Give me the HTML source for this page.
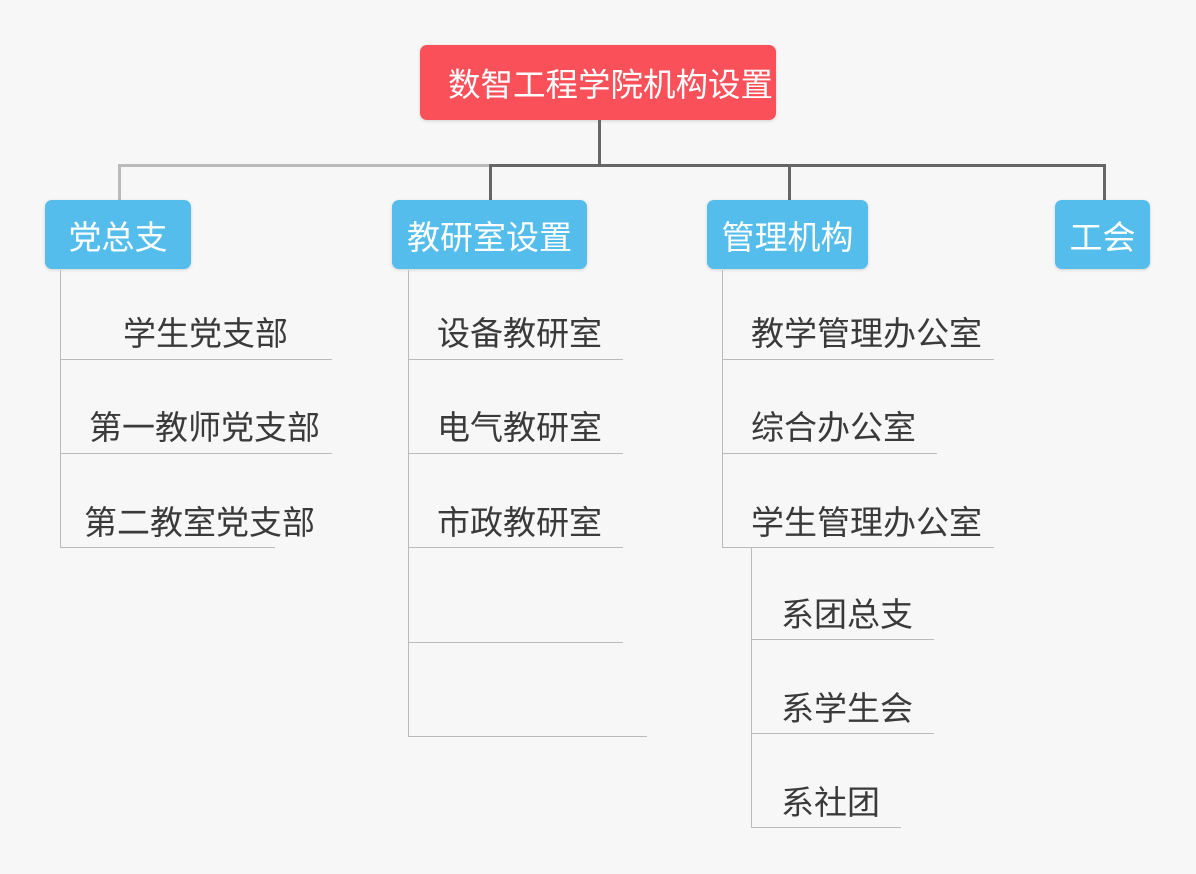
<!DOCTYPE html>
<html><head><meta charset="utf-8"><style>
body{margin:0;width:1196px;height:874px;background:#f7f7f7;position:relative;overflow:hidden;font-family:"Liberation Sans","Noto Sans CJK SC",sans-serif}
.b{position:absolute;border-radius:7px;color:#fff;display:flex;align-items:center;justify-content:center;font-size:33px;box-shadow:0 1px 3px rgba(0,0,0,.15)}
.blue{background:#55bdec}
.l{position:absolute;background:#bbb}
.d{position:absolute;background:#666}
.t{position:absolute;font-size:33px;color:#3a3a3a;line-height:40px;white-space:nowrap}
</style></head><body>
<div class="b" style="left:420px;top:45px;width:328px;padding-left:28px;justify-content:flex-start;height:75px;background:#f9505a;font-size:32.5px;white-space:nowrap">数智工程学院机构设置</div>
<div class="d" style="left:598px;top:120px;width:3px;height:46px"></div>
<div class="l" style="left:118px;top:164px;width:373px;height:3px"></div>
<div class="d" style="left:490px;top:164px;width:616px;height:3px"></div>
<div class="l" style="left:118px;top:164px;width:3px;height:36px"></div>
<div class="d" style="left:489px;top:164px;width:3px;height:36px"></div>
<div class="d" style="left:788px;top:164px;width:3px;height:36px"></div>
<div class="d" style="left:1103px;top:164px;width:3px;height:36px"></div>
<div class="b blue" style="left:45px;top:200px;width:146px;height:69px">党总支</div>
<div class="b blue" style="left:392px;top:200px;width:195px;height:69px">教研室设置</div>
<div class="b blue" style="left:707px;top:200px;width:161px;height:69px">管理机构</div>
<div class="b blue" style="left:1055px;top:200px;width:95px;height:69px">工会</div>

<div class="l" style="left:60px;top:270px;width:1px;height:278px"></div>
<div class="l" style="left:60px;top:359px;width:272px;height:1px"></div>
<div class="l" style="left:60px;top:453px;width:272px;height:1px"></div>
<div class="l" style="left:60px;top:547px;width:215px;height:1px"></div>
<div class="t" style="left:123px;top:314px">学生党支部</div>
<div class="t" style="left:89px;top:408px">第一教师党支部</div>
<div class="t" style="left:84px;top:503px">第二教室党支部</div>

<div class="l" style="left:408px;top:270px;width:1px;height:467px"></div>
<div class="l" style="left:408px;top:359px;width:215px;height:1px"></div>
<div class="l" style="left:408px;top:453px;width:215px;height:1px"></div>
<div class="l" style="left:408px;top:547px;width:215px;height:1px"></div>
<div class="l" style="left:408px;top:642px;width:215px;height:1px"></div>
<div class="l" style="left:408px;top:736px;width:239px;height:1px"></div>
<div class="t" style="left:437px;top:314px">设备教研室</div>
<div class="t" style="left:437px;top:408px">电气教研室</div>
<div class="t" style="left:437px;top:503px">市政教研室</div>

<div class="l" style="left:722px;top:270px;width:1px;height:278px"></div>
<div class="l" style="left:722px;top:359px;width:272px;height:1px"></div>
<div class="l" style="left:722px;top:453px;width:215px;height:1px"></div>
<div class="l" style="left:722px;top:547px;width:272px;height:1px"></div>
<div class="t" style="left:751px;top:314px">教学管理办公室</div>
<div class="t" style="left:751px;top:408px">综合办公室</div>
<div class="t" style="left:751px;top:503px">学生管理办公室</div>

<div class="l" style="left:751px;top:548px;width:1px;height:280px"></div>
<div class="l" style="left:751px;top:639px;width:183px;height:1px"></div>
<div class="l" style="left:751px;top:733px;width:183px;height:1px"></div>
<div class="l" style="left:751px;top:827px;width:150px;height:1px"></div>
<div class="t" style="left:781px;top:595px">系团总支</div>
<div class="t" style="left:781px;top:689px">系学生会</div>
<div class="t" style="left:781px;top:783px">系社团</div>
</body></html>
